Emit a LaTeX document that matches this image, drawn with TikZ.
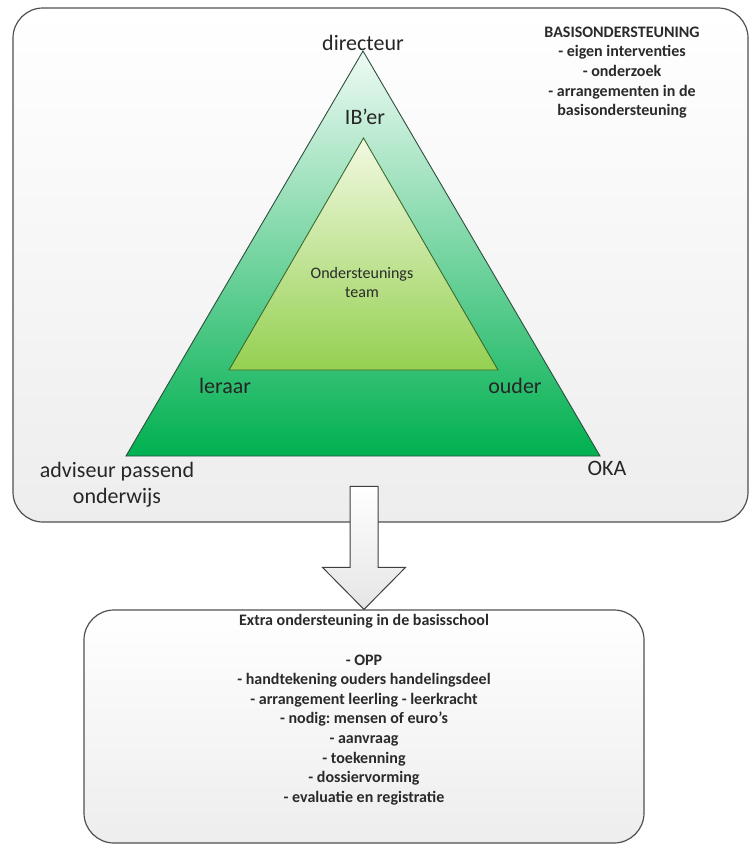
\documentclass[tikz,border=0pt]{standalone}
\usepackage{fontspec}
\setmainfont{Carlito}
\usetikzlibrary{calc}
\frenchspacing
\definecolor{boxline}{HTML}{505050}
\definecolor{labelgrey}{HTML}{262626}
\definecolor{textgrey}{HTML}{2A2A2A}
\definecolor{triline}{HTML}{2E4F3C}
\definecolor{innerline}{HTML}{3B6A2C}
\definecolor{triTop}{HTML}{EEFAF4}
\definecolor{triMid}{HTML}{7CD3A4}
\definecolor{triBot}{HTML}{00B050}
\definecolor{inTop}{HTML}{F3F9E2}
\definecolor{inMid}{HTML}{C6E59C}
\definecolor{inBot}{HTML}{94D050}
\begin{document}
\begin{tikzpicture}[x=1pt,y=-1pt,
  panel/.style={draw=boxline, line width=1.2pt, rounded corners=30pt,
    top color=white, bottom color=black!7, inner sep=0pt},
  biglabel/.style={font=\fontsize{22}{26}\selectfont, text=labelgrey, inner sep=0pt, anchor=base},
  midlabel/.style={font=\fontsize{16}{19}\selectfont, text=textgrey, inner sep=0pt, anchor=base},
  smalllabel/.style={font=\fontsize{16}{19.6}\selectfont\bfseries, text=textgrey, inner sep=0pt, anchor=base},
  blockarrow/.style={draw=black!75, line width=1pt, top color=white, bottom color=black!10, line join=miter}
]
\useasboundingbox (0,0) rectangle (750,846);

% upper panel
\node[panel, minimum width=735pt, minimum height=514pt] (top) at (380.5,265) {};

% outer triangle
\coordinate (oA) at (363,51);
\coordinate (oL) at (126,456);
\coordinate (oR) at (600,456);
\shade[top color=triTop, middle color=triMid, bottom color=triBot] (oA) -- (oL) -- (oR) -- cycle;
\draw[triline, line width=0.9pt, line join=miter] (oA) -- (oL) -- (oR) -- cycle;

% inner triangle
\coordinate (iA) at (363.5,138);
\coordinate (iL) at (229,370);
\coordinate (iR) at (498,370);
\shade[top color=inTop, middle color=inMid, bottom color=inBot] (iA) -- (iL) -- (iR) -- cycle;
\draw[innerline, line width=0.9pt, line join=miter] (iA) -- (iL) -- (iR) -- cycle;

% labels of the triangle
\node[biglabel] (dir) at (363,50) {directeur};
\node[biglabel] (ib) at (365,124) {IB’er};
\node[biglabel] (ler) at (225,393) {leraar};
\node[biglabel] (oud) at (515,393) {ouder};
\node[biglabel] (adv1) at (117,477) {adviseur passend};
\node[biglabel] (adv2) at (117,503) {onderwijs};
\node[biglabel] (oka) at (607,475) {OKA};
\node[midlabel] (ot1) at (362,278) {Ondersteunings};
\node[midlabel] (ot2) at (362,297) {team};

% basisondersteuning text
\foreach \t [count=\i] in {BASISONDERSTEUNING,- eigen interventies,- onderzoek,- arrangementen in de,basisondersteuning}
  \node[smalllabel] (basis\i) at (622,{37+19.7*(\i-1)}) {\t};

% lower panel
\node[panel, minimum width=560pt, minimum height=233pt] (low) at (364,726.5) {};

% block arrow from upper panel to lower panel
\draw[blockarrow] (low.north) -- ++(-41.5,-42) -- ++(27.5,0) -- ++(0,-81) -- ++(28,0) -- ++(0,81) -- ++(27.5,0) -- cycle;

\node[smalllabel] (extra) at (364,625) {Extra ondersteuning in de basisschool};
\foreach \t [count=\i] in {- OPP,- handtekening ouders handelingsdeel,- arrangement leerling - leerkracht,- nodig: mensen of euro’s,- aanvraag,- toekenning,- dossiervorming,- evaluatie en registratie}
  \node[smalllabel] (item\i) at (364,{665+19.6*(\i-1)}) {\t};
\end{tikzpicture}
\end{document}
